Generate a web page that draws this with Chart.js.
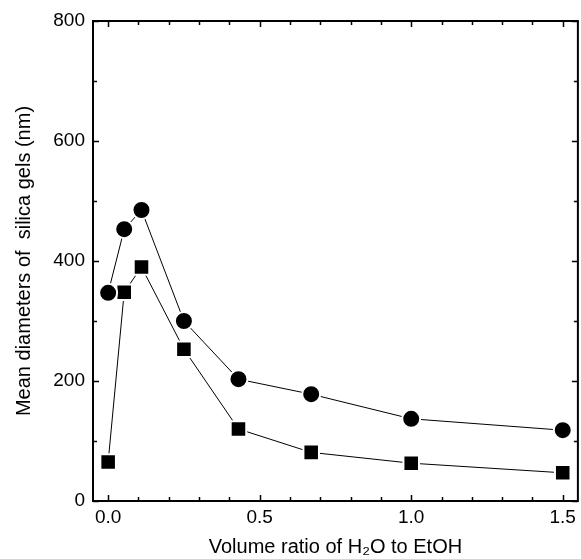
<!DOCTYPE html>
<html lang="en">
<head>
  <meta charset="UTF-8">
  <title>Mean diameters of silica gels</title>
  <script src="https://cdn.jsdelivr.net/npm/chart.js"></script>
  <style>
    html, body { margin: 0; padding: 0; background: #fff; }
    #wrap { width: 581px; height: 559px; }
  </style>
</head>
<body>
  <div id="wrap"><canvas id="gelChart" width="581" height="559"></canvas></div>

  <script>
    // volume ratio H2O : EtOH
    const ratios = [0, 0.053, 0.11, 0.25, 0.43, 0.67, 1.0, 1.5];
    const circleSizes = [347, 453, 485, 300, 203, 178, 137, 118];
    const squareSizes = [65, 348, 390, 253, 120, 81, 63, 47];
    const xTickLabels = [0, 0.5, 1.0, 1.5];
    const yTickLabels = [0, 200, 400, 600, 800];

    const toPoints = vals => ratios.map((r, i) => ({ x: r, y: vals[i] }));

    // frame + inward ticks (major and minor), on all four sides
    const frameTicks = {
      id: 'frameTicks',
      afterDraw(chart) {
        const { ctx, chartArea: a, scales } = chart;
        const xs = scales.x, ys = scales.y;
        ctx.save();
        ctx.strokeStyle = '#000';
        ctx.lineWidth = 1.5;
        for (let v = 0; v <= 1.5001; v += 0.1) {
          const px = Math.round(xs.getPixelForValue(v)) + 0.5;
          const major = Math.abs(v * 2 - Math.round(v * 2)) < 1e-6;
          const len = major ? 6 : 4;
          ctx.beginPath();
          ctx.moveTo(px, a.bottom); ctx.lineTo(px, a.bottom - len);
          ctx.moveTo(px, a.top); ctx.lineTo(px, a.top + len);
          ctx.stroke();
        }
        for (let v = 0; v <= 800; v += 100) {
          const py = Math.round(ys.getPixelForValue(v)) + 0.5;
          const len = v % 200 === 0 ? 6 : 4;
          ctx.beginPath();
          ctx.moveTo(a.left, py); ctx.lineTo(a.left + len, py);
          ctx.moveTo(a.right, py); ctx.lineTo(a.right - len, py);
          ctx.stroke();
        }
        ctx.lineWidth = 2;
        ctx.strokeRect(a.left, a.top, a.right - a.left, a.bottom - a.top);
        ctx.restore();
      }
    };

    const ctx = document.getElementById('gelChart').getContext('2d');
    new Chart(ctx, {
      type: 'scatter',
      data: {
        datasets: [{
          label: 'circles',
          data: toPoints(circleSizes),
          showLine: true,
          borderColor: '#000',
          borderWidth: 1,
          pointStyle: 'circle',
          pointRadius: 9,
          pointBackgroundColor: '#000',
          pointBorderColor: '#fff',
          pointBorderWidth: 2
        }, {
          label: 'squares',
          data: toPoints(squareSizes),
          showLine: true,
          borderColor: '#000',
          borderWidth: 1,
          pointStyle: 'rect',
          pointRadius: 11,
          pointBackgroundColor: '#000',
          pointBorderColor: '#fff',
          pointBorderWidth: 2
        }]
      },
      options: {
        responsive: false,
        animation: false,
        clip: false,
        layout: { autoPadding: false, padding: { top: 21, right: 2, left: 0, bottom: 0 } },
        plugins: {
          legend: { display: false },
          tooltip: { enabled: false }
        },
        scales: {
          x: {
            type: 'linear',
            min: -0.05,
            max: 1.55,
            afterBuildTicks: s => { s.ticks = xTickLabels.map(v => ({ value: v })); },
            afterFit: s => { s.height = 58; },
            grid: { display: false, drawTicks: false },
            border: { display: false },
            ticks: {
              color: '#000',
              padding: 5,
              font: { family: 'Liberation Sans', size: 19 },
              callback: v => Number(v).toFixed(1)
            },
            title: {
              display: true,
              text: 'Volume ratio of H\u2082O to EtOH',
              color: '#000',
              font: { family: 'Liberation Sans', size: 20 },
              padding: { top: 4, bottom: 0 }
            }
          },
          y: {
            type: 'linear',
            min: 0,
            max: 800,
            afterBuildTicks: s => { s.ticks = yTickLabels.map(v => ({ value: v })); },
            afterFit: s => { s.width = 93; },
            grid: { display: false, drawTicks: false },
            border: { display: false },
            ticks: {
              color: '#000',
              padding: 8,
              font: { family: 'Liberation Sans', size: 19 }
            },
            title: {
              display: true,
              text: 'Mean diameters of  silica gels (nm)',
              color: '#000',
              font: { family: 'Liberation Sans', size: 20 },
              padding: { top: 12, bottom: 0 }
            }
          }
        }
      },
      plugins: [frameTicks]
    });
  </script>
</body>
</html>
